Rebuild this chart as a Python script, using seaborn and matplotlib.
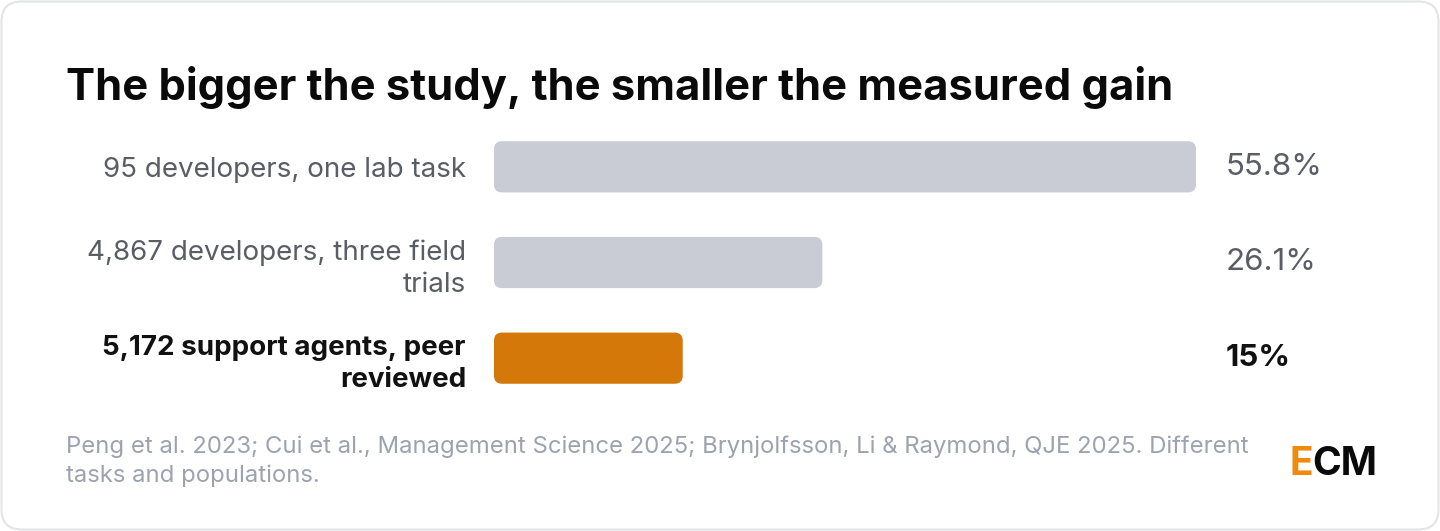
import matplotlib
matplotlib.use("Agg")
import matplotlib.pyplot as plt
import seaborn as sns
import pandas as pd
from matplotlib.patches import FancyBboxPatch

# data
labels = ["95 developers, one lab task",
          "4,867 developers, three field\ntrials",
          "5,172 support agents, peer\nreviewed"]
gains = [55.8, 26.1, 15.0]
value_text = ["55.8%", "26.1%", "15%"]
highlight = [False, False, True]

title = "The bigger the study, the smaller the measured gain"
note = ("Peng et al. 2023; Cui et al., Management Science 2025; Brynjolfsson, Li & Raymond, QJE 2025. Different\n"
        "tasks and populations.")

GREY_BAR = "#c9ccd4"
ORANGE = "#d4780a"
LABEL_GREY = "#5a5d66"
NOTE_GREY = "#9ca3af"

sns.set_theme(style="white")
plt.rcParams["font.family"] = ["Inter", "DejaVu Sans"]

W, H = 1440, 531
fig = plt.figure(figsize=(W / 100, H / 100), dpi=100)

# card background
bg = fig.add_axes([0, 0, 1, 1], zorder=-1)
bg.set_xlim(0, W)
bg.set_ylim(H, 0)
bg.axis("off")
bg.add_patch(FancyBboxPatch((1.5, 1.5), W - 3, H - 3,
                            boxstyle="round,pad=0,rounding_size=20",
                            fc="white", ec="#e3e4e8", lw=1.5))

# bar axes
left_px, right_px = 494, 1196
top_px, bottom_px = 119, 406
ax = fig.add_axes([left_px / W, 1 - bottom_px / H,
                   (right_px - left_px) / W, (bottom_px - top_px) / H])
ax.patch.set_alpha(0)

df = pd.DataFrame({"label": labels, "gain": gains})
colors = [ORANGE if h else GREY_BAR for h in highlight]
sns.barplot(data=df, x="gain", y="label", hue="label", palette=colors,
            legend=False, orient="h", width=0.535, ax=ax, saturation=1)
ax.set_xlim(0, max(gains))
ax.set_ylim(2.5, -0.5)

# rounded bars built from the seaborn rectangles
x_px = (right_px - left_px) / max(gains)
y_px = (bottom_px - top_px) / 3
r = 8 / x_px
for p in list(ax.patches):
    x0, y0 = p.get_x(), p.get_y()
    w, h = p.get_width(), p.get_height()
    fc = p.get_facecolor()
    p.set_visible(False)
    ax.add_patch(FancyBboxPatch((x0, y0), w, h,
                                boxstyle=f"round,pad=0,rounding_size={r}",
                                mutation_aspect=x_px / y_px,
                                fc=fc, ec="none"))

ax.set_xlabel("")
ax.set_ylabel("")
ax.set_xticks([])
sns.despine(ax=ax, left=True, bottom=True)
ax.tick_params(axis="y", length=0, pad=(left_px - 466) * 0.72)
for tl, h in zip(ax.get_yticklabels(), highlight):
    tl.set_fontsize(20)
    tl.set_linespacing(1.3)
    tl.set_color("#111111" if h else LABEL_GREY)
    tl.set_fontweight("bold" if h else "normal")

val_x = (1226 - left_px) / (right_px - left_px)
for i, (t, h) in enumerate(zip(value_text, highlight)):
    ax.text(val_x, i, t, transform=ax.get_yaxis_transform(),
            ha="left", va="center", fontsize=22.5,
            color="#111111" if h else LABEL_GREY,
            fontweight="bold" if h else "normal")

fig.text(66 / W, 1 - 100 / H, title, fontsize=31.3, fontweight="bold",
         color="#0a0a0a", ha="left", va="baseline")
fig.text(66 / W, 1 - 436 / H, note, fontsize=17.2, color=NOTE_GREY,
         ha="left", va="top", linespacing=1.33)

e = fig.text(1289 / W, 1 - 475 / H, "E", fontsize=28, fontweight="bold",
             color="#f08a0c", ha="left", va="baseline")
ax.annotate("CM", xy=(1, 0), xycoords=e, fontsize=28, fontweight="bold",
            color="#0a0a0a", ha="left", va="bottom", annotation_clip=False)

fig.savefig("out.png", dpi=100)
